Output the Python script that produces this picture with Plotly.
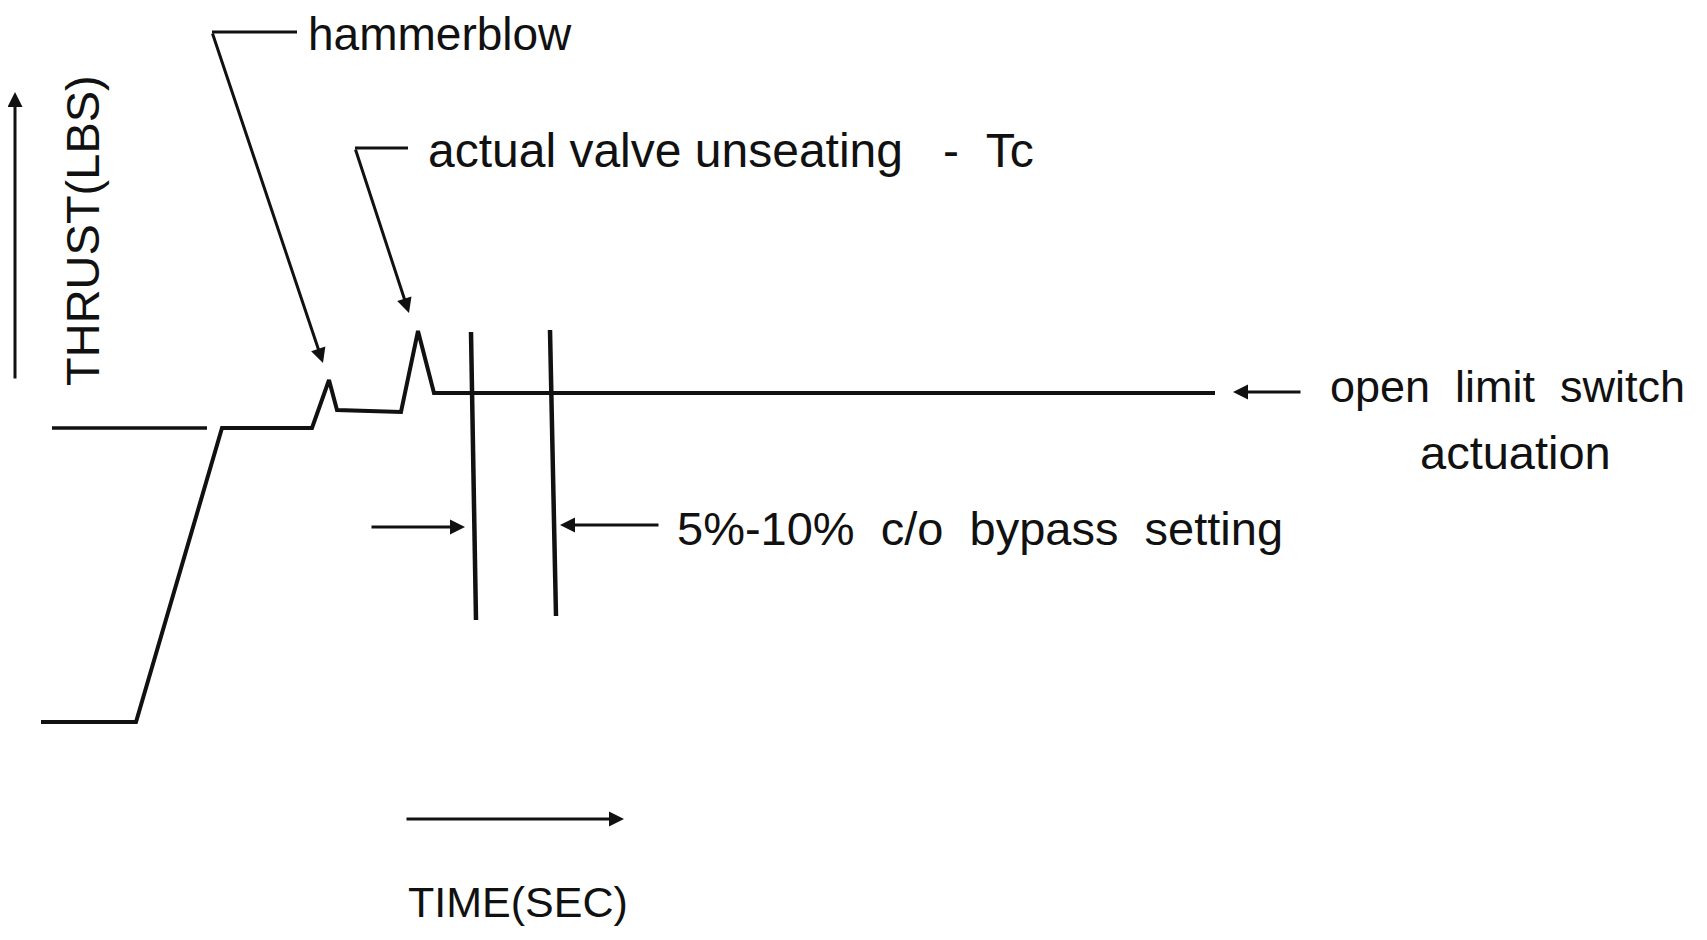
import plotly.graph_objects as go

# ---- data (schematic units: time -> right, thrust -> up) ----
thrust_time = [41, 136, 222, 312, 329, 337, 401, 418, 434, 1215]
thrust_level = [218, 218, 512, 512, 560, 530, 528, 609, 547, 547]

preload_time = [52, 207]
preload_level = [512, 512]

bypass_time_top = [471, 550]
bypass_time_bottom = [476, 556]
bypass_level_top = [608, 610]
bypass_level_bottom = [320, 324]

labels = ["hammerblow",
          "actual valve unseating&nbsp;&nbsp;&nbsp;-&nbsp;&nbsp;Tc",
          "5%-10%&nbsp;&nbsp;c/o&nbsp;&nbsp;bypass&nbsp;&nbsp;setting",
          "open&nbsp;&nbsp;limit&nbsp;&nbsp;switch", "actuation"]
x_title = "TIME(SEC)"
y_title = "THRUST(LBS)"

INK = "#111111"
FONT = "Liberation Sans, Arial, sans-serif"

fig = go.Figure()

fig.add_trace(go.Scatter(x=thrust_time, y=thrust_level, mode="lines",
                         line=dict(color=INK, width=4), hoverinfo="skip"))
fig.add_trace(go.Scatter(x=preload_time, y=preload_level, mode="lines",
                         line=dict(color=INK, width=3.5), hoverinfo="skip"))
for i in range(len(bypass_time_top)):
    fig.add_trace(go.Scatter(x=[bypass_time_top[i], bypass_time_bottom[i]],
                             y=[bypass_level_top[i], bypass_level_bottom[i]],
                             mode="lines", line=dict(color=INK, width=4.5),
                             hoverinfo="skip"))

# leader horizontals
fig.add_trace(go.Scatter(x=[212, 297], y=[908, 908], mode="lines",
                         line=dict(color=INK, width=3.2), hoverinfo="skip"))
fig.add_trace(go.Scatter(x=[355, 408], y=[792, 792], mode="lines",
                         line=dict(color=INK, width=3.2), hoverinfo="skip"))

def arrow(x0, y0, x1, y1, w=3, size=1.0, head=2):
    fig.add_annotation(x=x1, y=y1, ax=x0, ay=y0, xref="x", yref="y",
                       axref="x", ayref="y", showarrow=True, text="",
                       arrowhead=head, arrowsize=size, arrowwidth=w,
                       arrowcolor=INK, standoff=0)

arrow(212, 908, 323, 577)          # hammerblow leader
arrow(355, 792, 409, 627)          # valve unseating leader
arrow(370, 413, 465, 413)          # bypass left
arrow(660, 415, 560, 415)          # bypass right
arrow(1302, 548, 1233, 548)        # open limit switch
arrow(405, 121, 624, 121)          # time axis arrow
arrow(15, 560, 15, 848, w=3)       # thrust axis arrow

def text(x, y, s, anchor="left", size=46, angle=0):
    fig.add_annotation(x=x, y=y, xref="x", yref="y", text=s, showarrow=False,
                       xanchor=anchor, yanchor="middle", textangle=angle,
                       font=dict(family=FONT, size=size, color=INK))

text(306, 906, labels[0], size=46)
text(426, 790, labels[1], size=48)
text(675, 412, labels[2], size=47)
text(1328, 554, labels[3], size=45)
text(1515, 488, labels[4], anchor="center", size=47)
text(406, 38, x_title, size=43)
text(82, 709, y_title, anchor="center", size=47, angle=-90)

# page body has an 8px margin, so shift the axis windows by 8 units
fig.update_layout(
    width=1707, height=940, autosize=False,
    margin=dict(l=0, r=0, t=0, b=0),
    paper_bgcolor="white", plot_bgcolor="white",
    showlegend=False,
    xaxis=dict(range=[8, 1715], visible=False, fixedrange=True),
    yaxis=dict(range=[-8, 932], visible=False, fixedrange=True),
)

fig.write_html("out.html")
